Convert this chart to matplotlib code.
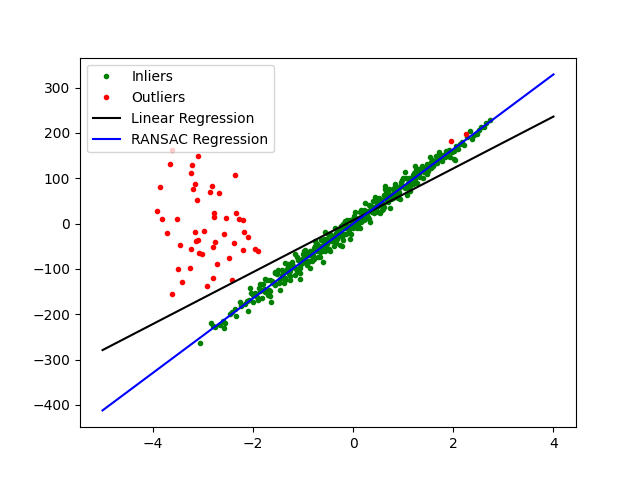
import matplotlib
matplotlib.use('Agg')
import numpy as np
import matplotlib.pyplot as plt

# inlier points (band around the RANSAC line)
inlier_x = [
    -1.95, -1.90, -1.85, -1.80, -1.75, -1.70, -1.65, -1.60, -1.55, -1.50,
    -1.45, -1.40, -1.35, -1.30, -1.25, -1.20, -1.15, -1.10, -1.05, -1.00,
    -0.95, -0.90, -0.85, -0.80, -0.75, -0.70, -0.65, -0.60, -0.55, -0.50,
    -0.45, -0.40, -0.35, -0.30, -0.25, -0.20, -0.15, -0.10, -0.05, 0.00,
    0.05, 0.10, 0.15, 0.20, 0.25, 0.30, 0.35, 0.40, 0.45, 0.50,
    0.55, 0.60, 0.65, 0.70, 0.75, 0.80, 0.85, 0.90, 0.95, 1.00,
    1.05, 1.10, 1.15, 1.20, 1.25, 1.30, 1.35, 1.40, 1.45,
    -1.925, -1.875, -1.825, -1.775, -1.725, -1.675, -1.625, -1.575, -1.525, -1.475,
    -1.425, -1.375, -1.325, -1.275, -1.225, -1.175, -1.125, -1.075, -1.025, -0.975,
    -0.925, -0.875, -0.825, -0.775, -0.725, -0.675, -0.625, -0.575, -0.525, -0.475,
    -0.425, -0.375, -0.325, -0.275, -0.225, -0.175, -0.125, -0.075, -0.025, 0.025,
    0.075, 0.125, 0.175, 0.225, 0.275, 0.325, 0.375, 0.425, 0.475, 0.525,
    0.575, 0.625, 0.675, 0.725, 0.775, 0.825, 0.875, 0.925, 0.975, 1.025,
    1.075, 1.125, 1.175, 1.225, 1.275, 1.325, 1.375, 1.425,
    -1.41, -1.36, -1.31, -1.26, -1.21, -1.16, -1.11, -1.06, -1.01, -0.96,
    -0.91, -0.86, -0.81, -0.76, -0.71, -0.66, -0.61, -0.56, -0.51, -0.46,
    -0.41, -0.36, -0.31, -0.26, -0.21, -0.16, -0.11, -0.06, -0.01, 0.04,
    0.09, 0.14, 0.19, 0.24, 0.29, 0.34, 0.39, 0.44, 0.49, 0.54,
    0.59, 0.64, 0.69, 0.74, 0.79, 0.84, 0.89, 0.94, 0.99, 1.04,
    1.09, 1.14, 1.19, 1.24, 1.29, 1.34, 1.39,
    -0.985, -0.935, -0.885, -0.835, -0.785, -0.735, -0.685, -0.635, -0.585, -0.535,
    -0.485, -0.435, -0.385, -0.335, -0.285, -0.235, -0.185, -0.135, -0.085, -0.035,
    0.015, 0.065, 0.115, 0.165, 0.215, 0.265, 0.315, 0.365, 0.415, 0.465,
    0.515, 0.565, 0.615, 0.665, 0.715, 0.765, 0.815, 0.865, 0.915, 0.965,
    -1.7625, -1.6625, -1.5625, -1.4625, -1.3625, -1.2625, -1.1625, -1.0625, -0.9625, -0.8625,
    -0.7625, -0.6625, -0.5625, -0.4625, -0.3625, -0.2625, -0.1625, -0.0625, 0.0375, 0.1375,
    0.2375, 0.3375, 0.4375, 0.5375, 0.6375, 0.7375, 0.8375, 0.9375, 1.0375, 1.1375,
    1.2375,
    -3.06, -2.84, -2.76, -2.66, -2.57, -2.59, -2.55, -2.36, -2.33, -2.26,
    -2.23, -2.09, -2.07, -1.99, -1.64, -2.06, -2.03, -1.86, -1.66, -1.56,
    -1.29, -1.06, -0.59, -0.23, -2.45, -2.42, -2.15, -2.12, -2.00, -2.80,
    2.74, 2.61, 2.47, 2.34, 2.37, 2.14, 2.01, 1.87, 1.94, 1.71,
    1.64, 1.54, 1.47, 1.37, 2.01, 2.04, 1.07, 0.64,
    1.50, 1.52, 1.56, 1.58, 1.60, 1.62, 1.66, 1.68, 1.72, 1.75,
    1.78, 1.80, 1.83, 1.85, 1.90, 1.92, 1.98, 2.05, 2.10, 2.18,
    2.22, 2.28, 2.42, 2.52, 2.56, 2.66, 1.48, 1.55,
]
inlier_y = [
    -152, -168, -149, -133, -150, -157, -125, -131, -136, -103,
    -122, -108, -125, -95, -104, -93, -114, -81, -93, -66,
    -76, -85, -64, -70, -49, -73, -52, -38, -53, -23,
    -39, -29, -42, -17, -26, -2, -22, -5, -23, 10,
    4, 1, 29, 13, 27, 13, 38, 32, 49, 26,
    50, 43, 72, 48, 64, 77, 66, 57, 85, 83,
    100, 82, 98, 87, 119, 105, 120, 101, 122,
    -163, -143, -165, -144, -124, -146, -127, -131, -112, -132,
    -113, -131, -100, -111, -85, -96, -104, -81, -88, -61,
    -84, -69, -82, -54, -60, -49, -61, -33, -46, -55,
    -27, -30, -34, -11, -30, -9, 7, -11, -4, 11,
    -9, 13, 25, 9, 23, 42, 25, 24, 46, 45,
    29, 64, 51, 65, 56, 78, 59, 80, 96, 83,
    79, 100, 91, 112, 89, 111, 120, 114,
    -102, -119, -105, -116, -90, -98, -73, -97, -78, -80,
    -91, -60, -72, -59, -45, -63, -50, -60, -34, -22,
    -38, -41, -19, -20, -36, -3, -11, 7, -9, 7,
    -6, 26, 11, 27, 14, 30, 49, 29, 39, 54,
    33, 57, 70, 58, 56, 77, 61, 80, 100, 79,
    90, 82, 107, 98, 120, 102, 120,
    -84, -65, -82, -63, -78, -52, -56, -36, -54, -55,
    -37, -26, -49, -21, -25, -6, -23, -10, -19, 6,
    16, 0, 13, 4, 29, 21, 11, 37, 36, 31,
    56, 42, 37, 60, 77, 54, 67, 79, 69, 91,
    -123, -160, -110, -147, -87, -124, -67, -110, -59, -97,
    -39, -73, -19, -60, -9, -47, 6, -33, 26, -10,
    46, 4, 58, 24, 77, 34, 87, 54, 113, 71,
    126,
    -263, -219, -227, -224, -230, -214, -219, -188, -203, -174,
    -181, -192, -168, -157, -174, -141, -152, -133, -148, -107,
    -89, -122, -85, -49, -200, -195, -178, -170, -172, -225,
    229, 213, 198, 205, 187, 176, 161, 157, 146, 157,
    139, 146, 132, 128, 143, 141, 62, 82,
    115, 130, 122, 140, 128, 131, 148, 133, 142, 150,
    139, 152, 146, 160, 150, 162, 158, 170, 165, 180,
    174, 190, 196, 206, 214, 221, 110, 135,
]

# outlier points
outlier_x = [
    -3.61, -3.09, -3.65, -3.21, -3.23, -2.35, -3.15, -3.85, -3.19, -2.81,
    -2.85, -2.67, -3.11, -3.91, -2.77, -2.33, -3.81, -3.51, -2.77, -2.53,
    -2.27, -2.19, -3.71, -3.15, -2.97, -2.17, -2.57, -2.09, -3.09, -3.13,
    -2.75, -3.45, -3.23, -2.79, -2.37, -2.19, -1.95, -1.89, -3.07, -3.01,
    -2.47, -2.71, -3.49, -3.25, -2.79, -3.41, -2.41, -2.91, -3.61,
    1.95, 2.25,
]
outlier_y = [
    163, 149, 132, 130, 112, 107, 88, 81, 77, 83,
    70, 68, 52, 28, 24, 24, 10, 10, 15, 13,
    10, 8, -21, -18, -16, -18, -23, -29, -36, -38,
    -41, -47, -56, -52, -43, -58, -56, -60, -65, -67,
    -76, -89, -100, -98, -120, -129, -124, -138, -155,
    183, 198,
]

# fitted lines
line_x = [-5, 4]
linear_y = [-279, 236]
ransac_y = [-412, 329]

fig = plt.figure(figsize=(6.4, 4.8), dpi=100)
ax = fig.gca()
plt.plot(inlier_x, inlier_y, '.', color='green', label='Inliers')
plt.plot(outlier_x, outlier_y, '.', color='red', label='Outliers')
plt.plot(line_x, linear_y, color='black', label='Linear Regression')
plt.plot(line_x, ransac_y, color='blue', label='RANSAC Regression')
plt.legend(loc='upper left')
fig.savefig('out.png', dpi=100)
